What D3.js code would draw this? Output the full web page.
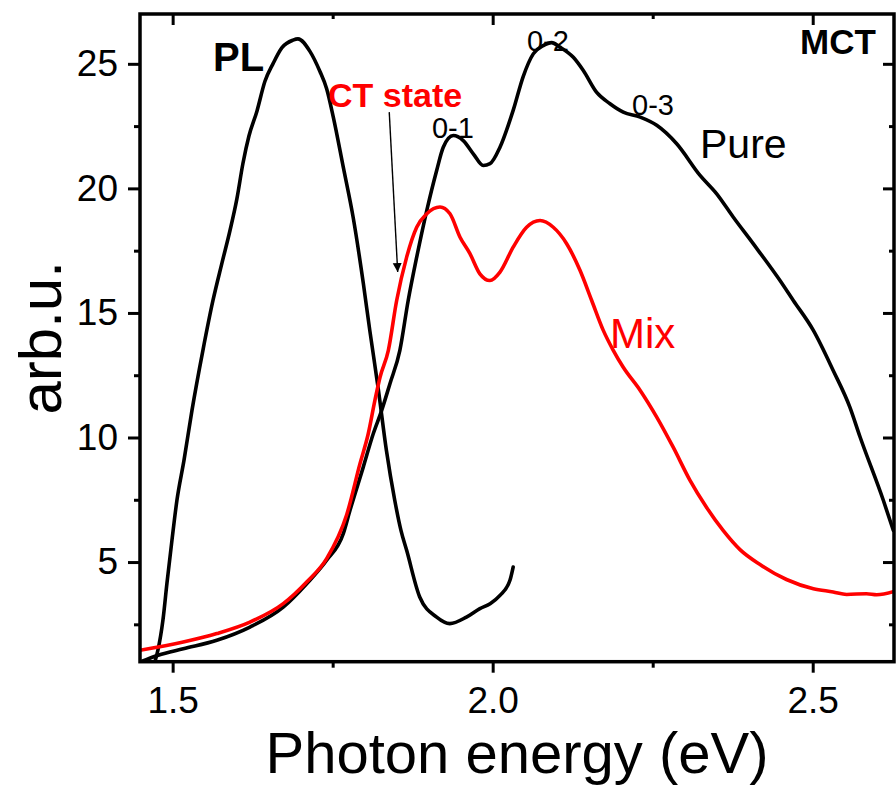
<!DOCTYPE html>
<html><head><meta charset="utf-8">
<script src="https://cdn.jsdelivr.net/npm/d3@7"></script>
<style>
body{margin:0;background:#fff;}
svg{display:block;font-family:"Liberation Sans",Arial,sans-serif;}
</style>
</head><body>
<svg id="chart" width="896" height="787"></svg>
<script>
// ---- data (photon energy eV, intensity arb.u.) ----
const plEnergy = [1.4723,1.4770,1.4848,1.4911,1.4989,1.5067,1.5177,1.5302,1.5473,1.5630,1.5770,1.5895,1.6005,1.6098,1.6192,1.6317,1.6442,1.6567,1.6708,1.6880,1.6958,1.7145,1.730,1.7406,1.751,1.7666,1.782,1.798,1.808,1.821,1.834,1.847,1.8567,1.8656,1.886,1.9125,1.933,1.959,1.980,1.996,2.0114,2.027,2.032];
const plValue  = [1.0,1.46,2.66,4.15,5.87,7.48,9.08,11.09,13.5,15.5,17.0,18.3,19.6,21.0,22.1,23.1,24.3,25.0,25.65,25.95,26.0,25.5,24.7,24.0,22.86,20.85,18.84,16.17,14.3,12.0,9.48,7.48,6.27,5.47,3.6,2.79,2.53,2.79,3.13,3.33,3.66,4.27,4.8];

const pureEnergy = [1.45,1.4775,1.5166,1.569,1.6208,1.6728,1.7094,1.7406,1.7666,1.777,1.7978,1.8134,1.8266,1.8395,1.855,1.868,1.8813,1.897,1.9125,1.9228,1.9384,1.954,1.9697,1.9853,1.9958,2.0114,2.032,2.0478,2.0634,2.079,2.0922,2.105,2.126,2.1416,2.1625,2.1833,2.204,2.2305,2.2563,2.2875,2.324,2.35,2.376,2.407,2.4489,2.4697,2.501,2.532,2.558,2.574,2.6103,2.626];
const pureValue  = [1.0,1.26,1.52,1.86,2.39,3.19,4.13,5.07,6.14,7.07,8.81,10.15,11.09,12.16,13.5,15.5,17.24,19.11,20.72,21.65,22.12,21.92,21.39,20.92,20.99,21.65,23.13,24.5,25.4,25.73,25.85,25.67,25.26,24.73,23.85,23.4,23.06,22.86,22.53,21.79,20.52,19.78,18.84,17.78,16.3,15.5,14.3,12.69,11.22,10.02,7.48,6.27];

const mixEnergy = [1.449,1.5166,1.569,1.6208,1.6728,1.7094,1.7406,1.7719,1.7927,1.8056,1.816,1.824,1.837,1.85,1.8656,1.8813,1.897,1.9177,1.9333,1.949,1.9645,1.98,1.9958,2.0114,2.032,2.053,2.074,2.0947,2.1156,2.1364,2.1547,2.1728,2.1884,2.204,2.2305,2.2563,2.282,2.3083,2.334,2.36,2.3864,2.4177,2.459,2.501,2.532,2.553,2.584,2.6,2.627];
const mixValue  = [1.46,1.79,2.13,2.59,3.33,4.2,5.14,6.9,8.95,10.15,11.49,12.42,13.5,15.5,17.24,18.44,18.98,19.25,18.98,18.04,17.38,16.57,16.3,16.64,17.64,18.44,18.71,18.44,17.78,16.71,15.5,14.3,13.5,12.82,11.89,10.82,9.61,8.28,7.2,6.27,5.5,4.9,4.3,3.93,3.80,3.70,3.73,3.69,3.82];

const xMajor = [1.5, 2.0, 2.5];
const xMinor = [1.75, 2.25];
const yMajor = [5, 10, 15, 20, 25];
const yMinor = [2.5, 7.5, 12.5, 17.5, 22.5];

// ---- layout ----
const L = 140, R = 894, T = 14, B = 661.7;
const svg = d3.select("#chart");
const x = d3.scaleLinear().domain([1.449, 2.627]).range([L, R]);
const y = d3.scaleLinear().domain([1, 27]).range([B, T]);

svg.append("defs").append("clipPath").attr("id","clip")
  .append("rect").attr("x",L).attr("y",T).attr("width",R-L).attr("height",B-T);

const fmt = d3.format(".1f");
function styleAxis(g){
  g.select(".domain").remove();
  g.selectAll(".tick line").attr("stroke","#000").attr("stroke-width",3);
  g.selectAll("text").attr("fill","#000").attr("font-size",37)
   .attr("font-family",'"Liberation Sans",Arial,sans-serif');
}
// bottom
svg.append("g").attr("transform",`translate(0,${B})`)
  .call(d3.axisBottom(x).tickValues(xMajor).tickFormat(fmt).tickSize(11).tickPadding(14)).call(styleAxis);
svg.append("g").attr("transform",`translate(0,${B})`)
  .call(d3.axisBottom(x).tickValues(xMinor).tickFormat("").tickSize(6)).call(styleAxis);
// top (inward)
svg.append("g").attr("transform",`translate(0,${T})`)
  .call(d3.axisTop(x).tickValues(xMajor).tickFormat("").tickSize(-11)).call(styleAxis);
svg.append("g").attr("transform",`translate(0,${T})`)
  .call(d3.axisTop(x).tickValues(xMinor).tickFormat("").tickSize(-5)).call(styleAxis);
// left
svg.append("g").attr("transform",`translate(${L},0)`)
  .call(d3.axisLeft(y).tickValues(yMajor).tickFormat(d3.format("d")).tickSize(12).tickPadding(10)).call(styleAxis);
svg.append("g").attr("transform",`translate(${L},0)`)
  .call(d3.axisLeft(y).tickValues(yMinor).tickFormat("").tickSize(6)).call(styleAxis);
// right (inward)
svg.append("g").attr("transform",`translate(${R},0)`)
  .call(d3.axisRight(y).tickValues(yMajor).tickFormat("").tickSize(-11)).call(styleAxis);
svg.append("g").attr("transform",`translate(${R},0)`)
  .call(d3.axisRight(y).tickValues(yMinor).tickFormat("").tickSize(-5)).call(styleAxis);

// ---- curves ----
const line = d3.line().x(d=>x(d[0])).y(d=>y(d[1])).curve(d3.curveMonotoneX);
const series = [
  {e: plEnergy, v: plValue, c: "#000"},
  {e: pureEnergy, v: pureValue, c: "#000"},
  {e: mixEnergy, v: mixValue, c: "#ff0000"}
];
const gLines = svg.append("g").attr("clip-path","url(#clip)");
series.forEach(s=>{
  gLines.append("path").datum(d3.zip(s.e, s.v))
    .attr("d", line).attr("fill","none").attr("stroke", s.c)
    .attr("stroke-width",3.6).attr("stroke-linejoin","round").attr("stroke-linecap","round");
});

// frame
svg.append("rect").attr("x",L).attr("y",T).attr("width",R-L).attr("height",B-T)
  .attr("fill","none").attr("stroke","#000").attr("stroke-width",3.5);

// ---- annotations ----
svg.append("defs").append("marker").attr("id","arrow")
  .attr("viewBox","0 0 10 10").attr("refX",10).attr("refY",5)
  .attr("markerWidth",9).attr("markerHeight",16).attr("markerUnits","userSpaceOnUse")
  .attr("orient","auto")
  .append("path").attr("d","M0,0 L10,5 L0,10 Z").attr("fill","#000");
svg.append("line")
  .attr("x1",x(1.8384)).attr("y1",y(23.06)).attr("x2",x(1.8516)).attr("y2",y(16.64))
  .attr("stroke","#000").attr("stroke-width",1.4).attr("marker-end","url(#arrow)");

const labels = [
  {t:"PL", e:1.563, v:24.70, size:40, w:"bold", c:"#000"},
  {t:"CT state", e:1.7427, v:23.25, size:34, w:"bold", c:"#ff0000"},
  {t:"0-1", e:1.9052, v:22.04, size:29, w:"normal", c:"#000"},
  {t:"0-2", e:2.0536, v:25.53, size:29, w:"normal", c:"#000"},
  {t:"0-3", e:2.2177, v:22.93, size:29, w:"normal", c:"#000"},
  {t:"Pure", e:2.3239, v:21.2, size:41, w:"normal", c:"#000"},
  {t:"Mix", e:2.1833, v:13.58, size:42, w:"normal", c:"#ff0000"},
  {t:"MCT", e:2.4802, v:25.41, size:35, w:"bold", c:"#000"}
];
svg.append("g").selectAll("text").data(labels).join("text")
  .attr("x",d=>x(d.e)).attr("y",d=>y(d.v))
  .attr("font-size",d=>d.size).attr("font-weight",d=>d.w).attr("fill",d=>d.c)
  .text(d=>d.t);

// axis titles
svg.append("text").attr("x",(L+R)/2).attr("y",773).attr("text-anchor","middle")
  .attr("font-size",58).attr("fill","#000").text("Photon energy (eV)");
svg.append("text").attr("transform",`translate(61,${(T+B)/2}) rotate(-90)`)
  .attr("text-anchor","middle").attr("font-size",60).attr("fill","#000").text("arb.u.");
</script>
</body></html>
